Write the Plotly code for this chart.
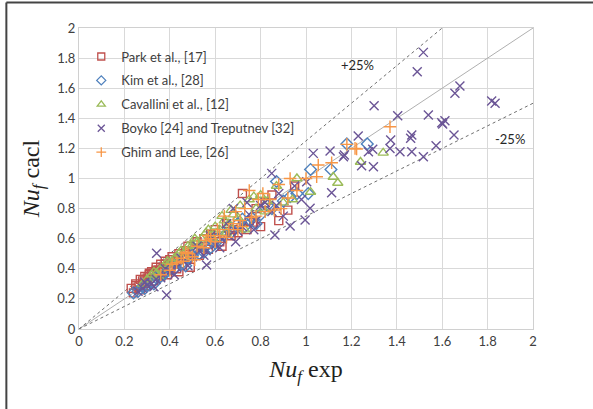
import plotly.graph_objects as go

# Park et al. [17]
park_exp = [0.23, 0.24, 0.25, 0.26, 0.27, 0.27, 0.28, 0.29, 0.30, 0.30, 0.31, 0.32, 0.33, 0.33,
            0.34, 0.35, 0.36, 0.36, 0.37, 0.38, 0.39, 0.40, 0.42, 0.44, 0.44, 0.46, 0.48, 0.49,
            0.50, 0.52, 0.55, 0.57, 0.60, 0.62, 0.65, 0.68, 0.72, 0.70, 0.75, 0.78, 0.80, 0.82,
            0.85, 0.88, 0.92, 0.95, 0.25, 0.28, 0.31, 0.34, 0.38, 0.41, 0.43, 0.47, 0.53, 0.58,
            0.63, 0.67, 0.74, 0.77]
park_cal = [0.27, 0.24, 0.30, 0.28, 0.33, 0.26, 0.30, 0.35, 0.34, 0.29, 0.36, 0.38, 0.37, 0.32,
            0.41, 0.39, 0.43, 0.35, 0.40, 0.45, 0.36, 0.46, 0.44, 0.50, 0.38, 0.47, 0.55, 0.41,
            0.52, 0.58, 0.60, 0.53, 0.66, 0.58, 0.70, 0.66, 0.90, 0.64, 0.72, 0.80, 0.68, 0.84,
            0.89, 0.72, 0.79, 0.95, 0.29, 0.32, 0.37, 0.39, 0.43, 0.48, 0.40, 0.52, 0.49, 0.63,
            0.55, 0.62, 0.66, 0.71]

# Kim et al. [28]
kim_exp = [0.24, 0.26, 0.28, 0.30, 0.32, 0.34, 0.36, 0.38, 0.40, 0.42, 0.45, 0.48, 0.50, 0.53,
           0.56, 0.58, 0.61, 0.64, 0.67, 0.70, 0.73, 0.76, 0.80, 0.83, 0.87, 0.90, 0.93, 0.96,
           1.01, 1.02, 1.11, 1.18, 1.27, 0.29, 0.33, 0.37, 0.44, 0.47, 0.52, 0.55, 0.60, 0.66,
           0.72, 0.78, 0.85]
kim_cal = [0.24, 0.25, 0.28, 0.29, 0.31, 0.34, 0.35, 0.37, 0.40, 0.40, 0.43, 0.47, 0.49, 0.50,
           0.55, 0.54, 0.60, 0.62, 0.64, 0.70, 0.68, 0.74, 0.76, 0.82, 0.98, 0.85, 0.88, 0.90,
           0.90, 1.06, 1.06, 1.23, 1.23, 0.27, 0.30, 0.36, 0.45, 0.42, 0.53, 0.51, 0.57, 0.68,
           0.73, 0.70, 0.80]

# Cavallini et al. [12]
cav_exp = [0.28, 0.30, 0.32, 0.34, 0.35, 0.36, 0.38, 0.40, 0.41, 0.42, 0.44, 0.46, 0.47, 0.48,
           0.50, 0.52, 0.53, 0.54, 0.56, 0.58, 0.59, 0.60, 0.62, 0.64, 0.65, 0.66, 0.68, 0.70,
           0.73, 0.75, 0.78, 0.80, 0.83, 0.87, 0.90, 0.94, 0.96, 1.02, 1.12, 1.14, 1.24, 1.34,
           0.33, 0.39, 0.45, 0.51, 0.57, 0.63, 0.67, 0.71, 0.77, 0.82]
cav_cal = [0.30, 0.33, 0.36, 0.37, 0.35, 0.40, 0.43, 0.44, 0.45, 0.47, 0.50, 0.50, 0.48, 0.55,
           0.56, 0.58, 0.55, 0.60, 0.64, 0.62, 0.60, 0.68, 0.66, 0.72, 0.64, 0.70, 0.76, 0.74,
           0.66, 0.86, 0.80, 0.89, 0.85, 0.95, 0.84, 0.86, 1.00, 0.91, 1.01, 0.97, 1.11, 1.17,
           0.38, 0.45, 0.52, 0.60, 0.66, 0.75, 0.79, 0.82, 0.88, 0.78]

# Boyko [24] and Treputnev [32]
boy_exp = [0.26, 0.28, 0.30, 0.32, 0.34, 0.342, 0.36, 0.386, 0.40, 0.43, 0.46, 0.50, 0.53,
           0.56, 0.562, 0.60, 0.63, 0.66, 0.68, 0.70, 0.72, 0.75, 0.78, 0.80, 0.82, 0.85, 0.849,
           0.863, 0.88, 0.90, 0.93, 0.95, 0.98, 0.996, 1.003, 1.018, 1.032, 1.106, 1.113, 1.165,
           1.169, 1.23, 1.245, 1.275, 1.294, 1.297, 1.30, 1.37, 1.373, 1.404, 1.414, 1.461,
           1.466, 1.466, 1.49, 1.517, 1.517, 1.539, 1.573, 1.598, 1.602, 1.612, 1.652, 1.656,
           1.678, 1.818, 1.833, 0.29, 0.33, 0.38, 0.42, 0.45, 0.48, 0.52, 0.55, 0.58, 0.62,
           0.65, 0.69, 0.74, 0.77, 0.87]
boy_cal = [0.25, 0.27, 0.29, 0.30, 0.33, 0.503, 0.34, 0.226, 0.38, 0.41, 0.45, 0.48, 0.52,
           0.52, 0.425, 0.56, 0.60, 0.62, 0.80, 0.65, 0.68, 0.76, 0.72, 0.82, 0.84, 0.78, 1.034,
           0.625, 0.90, 0.75, 0.684, 0.95, 0.86, 0.724, 0.979, 0.802, 1.167, 1.183, 0.906, 1.145,
           1.156, 1.282, 1.085, 1.178, 1.194, 1.078, 1.484, 1.20, 1.256, 1.417, 1.178, 1.267,
           1.289, 1.178, 1.71, 1.838, 1.145, 1.422, 1.218, 1.37, 1.362, 1.384, 1.289, 1.566,
           1.615, 1.515, 1.50, 0.31, 0.28, 0.40, 0.36, 0.47, 0.42, 0.55, 0.49, 0.62, 0.54,
           0.70, 0.58, 0.84, 0.66, 0.82]

# Ghim and Lee [26]
ghim_exp = [0.36, 0.40, 0.43, 0.45, 0.46, 0.48, 0.50, 0.52, 0.55, 0.56, 0.58, 0.60, 0.62,
            0.64, 0.66, 0.68, 0.70, 0.71, 0.73, 0.75, 0.76, 0.79, 0.82, 0.84, 0.86, 0.88, 0.89,
            0.93, 0.96, 1.00, 1.047, 1.054, 1.113, 1.18, 1.216, 1.223, 1.37, 0.41, 0.47, 0.51,
            0.57, 0.61, 0.65, 0.69, 0.72, 0.78, 0.81, 0.92]
ghim_cal = [0.36, 0.39, 0.44, 0.47, 0.45, 0.50, 0.48, 0.55, 0.54, 0.59, 0.60, 0.58, 0.62,
            0.75, 0.66, 0.70, 0.66, 0.72, 0.80, 0.92, 0.74, 0.86, 0.78, 0.86, 0.79, 0.96, 0.80,
            1.00, 0.92, 1.00, 1.012, 1.09, 1.105, 1.227, 1.20, 1.196, 1.344, 0.43, 0.51, 0.46,
            0.62, 0.66, 0.61, 0.78, 0.68, 0.75, 0.90, 0.87]

# Reference lines: perfect agreement and +/-25 % bands
ref_x = [0, 2]
ref_y = [0, 2]
plus25_x = [0, 1.6]
plus25_y = [0, 2.0]
minus25_x = [0, 2]
minus25_y = [0, 1.5]

ticks = [0, 0.2, 0.4, 0.6, 0.8, 1, 1.2, 1.4, 1.6, 1.8, 2]
tick_text = ["0", "0.2", "0.4", "0.6", "0.8", "1", "1.2", "1.4", "1.6", "1.8", "2"]

fig = go.Figure()

fig.add_trace(go.Scatter(x=ref_x, y=ref_y, mode="lines", line=dict(color="#b0b0b0", width=1),
                         showlegend=False, hoverinfo="skip"))
fig.add_trace(go.Scatter(x=plus25_x, y=plus25_y, mode="lines",
                         line=dict(color="#6f6f6f", width=1, dash="dot"),
                         showlegend=False, hoverinfo="skip"))
fig.add_trace(go.Scatter(x=minus25_x, y=minus25_y, mode="lines",
                         line=dict(color="#6f6f6f", width=1, dash="dot"),
                         showlegend=False, hoverinfo="skip"))

series = [
    ("Park et al., [17]", park_exp, park_cal, "square-open", "#C0504D", 8),
    ("Kim et al., [28]", kim_exp, kim_cal, "diamond-open", "#4F81BD", 9),
    ("Cavallini et al., [12]", cav_exp, cav_cal, "triangle-up-open", "#9BBB59", 9),
    ("Boyko [24] and Treputnev [32]", boy_exp, boy_cal, "x-thin-open", "#6B5596", 9),
    ("Ghim and Lee, [26]", ghim_exp, ghim_cal, "cross-thin-open", "#F79646", 9),
]
for i, (name, xs, ys, sym, col, sz) in enumerate(series):
    # data markers
    fig.add_trace(go.Scatter(
        x=xs, y=ys, mode="markers", name=name, legendgroup=f"g{i}", showlegend=False,
        marker=dict(symbol=sym, size=sz, color=col, line=dict(color=col, width=1.4)),
    ))
    # smaller symbol for the legend key
    fig.add_trace(go.Scatter(
        x=[None], y=[None], mode="markers", name=name, legendgroup=f"g{i}",
        marker=dict(symbol=sym, size=7, color=col, line=dict(color=col, width=1.3)),
    ))

fig.add_annotation(x=1.225, y=1.755, text="+25%", showarrow=False,
                   font=dict(family="Lato", size=13, color="#262626"))
fig.add_annotation(x=1.9, y=1.26, text="-25%", showarrow=False,
                   font=dict(family="Lato", size=13, color="#262626"))

# Outer frame lines (top and left)
fig.add_shape(type="line", xref="paper", yref="paper", x0=-0.16, x1=1.14, y0=1.085, y1=1.085,
              line=dict(color="#444444", width=2))
fig.add_shape(type="line", xref="paper", yref="paper", x0=-0.16, x1=-0.16, y0=1.085, y1=-0.28,
              line=dict(color="#444444", width=2))

axis_common = dict(
    range=[0, 2], tickvals=ticks, ticktext=tick_text, showgrid=True, gridcolor="#d9d9d9",
    gridwidth=1, zeroline=False, showline=True, linecolor="#d0d0d0", linewidth=1, mirror=True,
    ticks="", tickfont=dict(family="Lato", size=13, color="#404040"),
)

fig.update_layout(
    width=593, height=409,
    margin=dict(l=79, r=60, t=28, b=80),
    paper_bgcolor="white", plot_bgcolor="white",
    xaxis=dict(**axis_common,
               title=dict(text="<i>Nu</i><sub><i>f</i></sub> exp",
                          font=dict(family="Liberation Serif", size=24, color="#231f20"),
                          standoff=12)),
    yaxis=dict(**axis_common,
               title=dict(text="<i>Nu</i><sub><i>f</i></sub> cacl",
                          font=dict(family="Liberation Serif", size=24, color="#231f20"),
                          standoff=10)),
    legend=dict(x=0.005, y=0.955, xanchor="left", yanchor="top", bgcolor="rgba(0,0,0,0)",
                font=dict(family="Lato", size=13, color="#404040"), itemwidth=30,
                tracegroupgap=4),
    showlegend=True,
)

fig.write_html("out.html")
